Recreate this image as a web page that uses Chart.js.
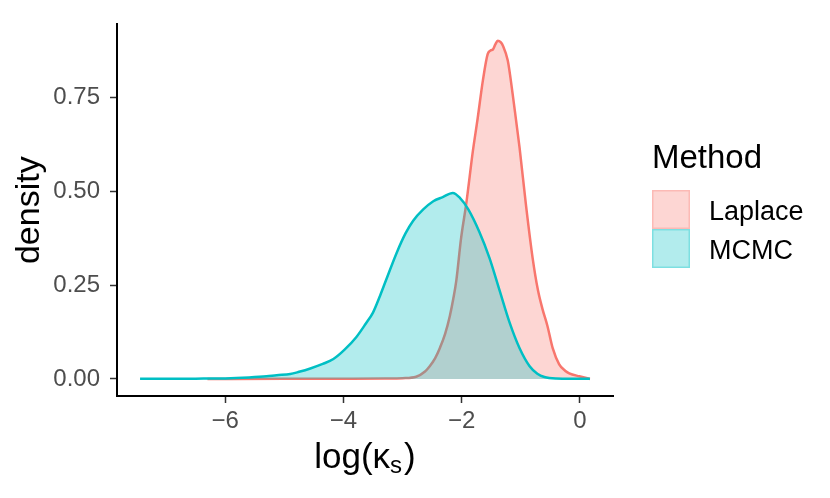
<!DOCTYPE html>
<html><head><meta charset="utf-8">
<script src="https://cdn.jsdelivr.net/npm/chart.js@4"></script>
<style>html,body{margin:0;padding:0;background:#fff}</style>
</head><body>
<canvas id="c" width="830" height="498" style="display:block;width:830px;height:498px"></canvas>
<script>
const seriesNames = ['Laplace', 'MCMC'];
const laplaceX = [-6.3,-5,-4,-3.3,-3.0,-2.77,-2.62,-2.54,-2.45,-2.37,-2.28,-2.20,-2.14,-2.09,-2.01,-1.92,-1.81,-1.73,-1.64,-1.56,-1.51,-1.47,-1.43,-1.39,-1.34,-1.30,-1.22,-1.14,-1.08,-1.02,-0.91,-0.80,-0.71,-0.63,-0.55,-0.46,-0.35,-0.25,-0.18,-0.01,0.17];
const laplaceY = [0,0.0003,0.0005,0.001,0.002,0.006,0.02,0.034,0.055,0.082,0.12,0.168,0.215,0.263,0.375,0.47,0.608,0.694,0.797,0.866,0.876,0.879,0.892,0.902,0.898,0.888,0.849,0.763,0.69,0.616,0.461,0.323,0.237,0.185,0.142,0.082,0.039,0.022,0.015,0.007,0];
const mcmcX = [-7.44,-7,-6.5,-6,-5.6,-5.3,-5.13,-4.9,-4.75,-4.56,-4.35,-4.17,-3.98,-3.78,-3.62,-3.5,-3.38,-3.28,-3.1,-2.95,-2.82,-2.65,-2.48,-2.32,-2.15,-2.03,-1.89,-1.7,-1.53,-1.36,-1.19,-1.02,-0.85,-0.72,-0.6,-0.4,-0.1,0.17];
const mcmcY = [0.0005,0.0005,0.0008,0.0015,0.004,0.007,0.010,0.013,0.019,0.028,0.04,0.053,0.078,0.112,0.148,0.177,0.222,0.263,0.336,0.388,0.422,0.452,0.474,0.485,0.496,0.483,0.453,0.392,0.323,0.237,0.151,0.082,0.034,0.014,0.005,0.001,0.0003,0.0002];
const xTicks = [-6, -4, -2, 0];
const yTicks = [0, 0.25, 0.5, 0.75];
const xTitle = ['log(', 'κ', 's', ')'];
const yTitle = 'density';
const legendTitle = 'Method';

const lineColors = ['#F8766D', '#00BFC4'];
const fillColors = ['rgba(248,118,109,0.3)', 'rgba(0,191,196,0.3)'];
const FONT = '"Liberation Sans", Arial, Helvetica, sans-serif';

function pts(xs, ys) { return xs.map((x, i) => ({x: x, y: ys[i]})); }

const textPlugin = {
  id: 'texts',
  afterDraw(chart) {
    const ctx = chart.ctx;
    const ca = chart.chartArea;
    ctx.save();
    // y title
    ctx.fillStyle = '#000';
    ctx.font = '34px ' + FONT;
    ctx.textAlign = 'center';
    ctx.textBaseline = 'middle';
    ctx.translate(30, (ca.top + ca.bottom) / 2);
    ctx.rotate(-Math.PI / 2);
    ctx.fillText(yTitle, 0, 0);
    ctx.restore();

    // x title with subscript
    ctx.save();
    ctx.fillStyle = '#000';
    ctx.textBaseline = 'alphabetic';
    ctx.textAlign = 'left';
    const big = '35px ' + FONT, small = '24px ' + FONT;
    ctx.font = big;
    const w0 = ctx.measureText(xTitle[0]).width;
    const w1 = ctx.measureText(xTitle[1]).width;
    const w3 = ctx.measureText(xTitle[3]).width;
    ctx.font = small;
    const w2 = ctx.measureText(xTitle[2]).width;
    const total = w0 + w1 + w2 + w3 + 2;
    let x = (ca.left + ca.right) / 2 - total / 2;
    const base = 468;
    ctx.font = big;
    ctx.fillText(xTitle[0], x, base); x += w0;
    ctx.fillText(xTitle[1], x, base); x += w1;
    ctx.font = small;
    ctx.fillText(xTitle[2], x, base + 5); x += w2 + 2;
    ctx.font = big;
    ctx.fillText(xTitle[3], x, base);
    ctx.restore();

    // legend
    ctx.save();
    ctx.fillStyle = '#000';
    ctx.textAlign = 'left';
    ctx.textBaseline = 'alphabetic';
    ctx.font = '33px ' + FONT;
    ctx.fillText(legendTitle, 652, 168);
    const boxX = 652, boxW = 38, boxH = 39, top0 = 190;
    chart.data.datasets.forEach((ds, i) => {
      const y = top0 + i * boxH;
      ctx.fillStyle = fillColors[i];
      ctx.fillRect(boxX, y, boxW, boxH);
      ctx.strokeStyle = fillColors[i];
      ctx.lineWidth = 1.5;
      ctx.strokeRect(boxX + 0.75, y + 0.75, boxW - 1.5, boxH - 1.5);
      ctx.fillStyle = '#000';
      ctx.font = '27px ' + FONT;
      ctx.fillText(ds.label, 709, y + 29.5);
    });
    ctx.restore();
  }
};

new Chart(document.getElementById('c'), {
  type: 'line',
  data: {
    datasets: [
      {label: seriesNames[0], data: pts(laplaceX, laplaceY), borderColor: lineColors[0], backgroundColor: fillColors[0], fill: 'origin', order: 1},
      {label: seriesNames[1], data: pts(mcmcX, mcmcY), borderColor: lineColors[1], backgroundColor: fillColors[1], fill: 'origin', order: 0}
    ]
  },
  options: {
    responsive: false,
    animation: false,
    devicePixelRatio: 1,
    parsing: false,
    layout: {padding: {left: 0, top: 13, right: 217, bottom: 0}},
    elements: {
      point: {radius: 0, hoverRadius: 0},
      line: {borderWidth: 2.5, cubicInterpolationMode: 'monotone'}
    },
    plugins: {legend: {display: false}, tooltip: {enabled: false}},
    scales: {
      x: {
        type: 'linear', min: -7.83, max: 0.56,
        afterBuildTicks: s => { s.ticks = xTicks.map(v => ({value: v})); },
        afterFit: s => { s.height = 102; },
        grid: {display: true, drawOnChartArea: false, drawTicks: true, tickLength: 7, tickColor: '#333333', tickWidth: 1.5},
        border: {display: true, color: '#000', width: 2},
        ticks: {color: '#4D4D4D', font: {size: 24, family: FONT}, padding: 4, maxRotation: 0, autoSkip: false,
          callback: v => (v < 0 ? '\u2212' + Math.abs(v) : String(v))}
      },
      y: {
        type: 'linear', min: -0.0455, max: 0.9455,
        afterBuildTicks: s => { s.ticks = yTicks.map(v => ({value: v})); },
        afterFit: s => { s.width = 117; },
        grid: {display: true, drawOnChartArea: false, drawTicks: true, tickLength: 7, tickColor: '#333333', tickWidth: 1.5},
        border: {display: true, color: '#000', width: 2},
        ticks: {color: '#4D4D4D', font: {size: 24, family: FONT}, padding: 10, autoSkip: false,
          callback: v => Number(v).toFixed(2)}
      }
    }
  },
  plugins: [textPlugin]
});
</script>
</body></html>
